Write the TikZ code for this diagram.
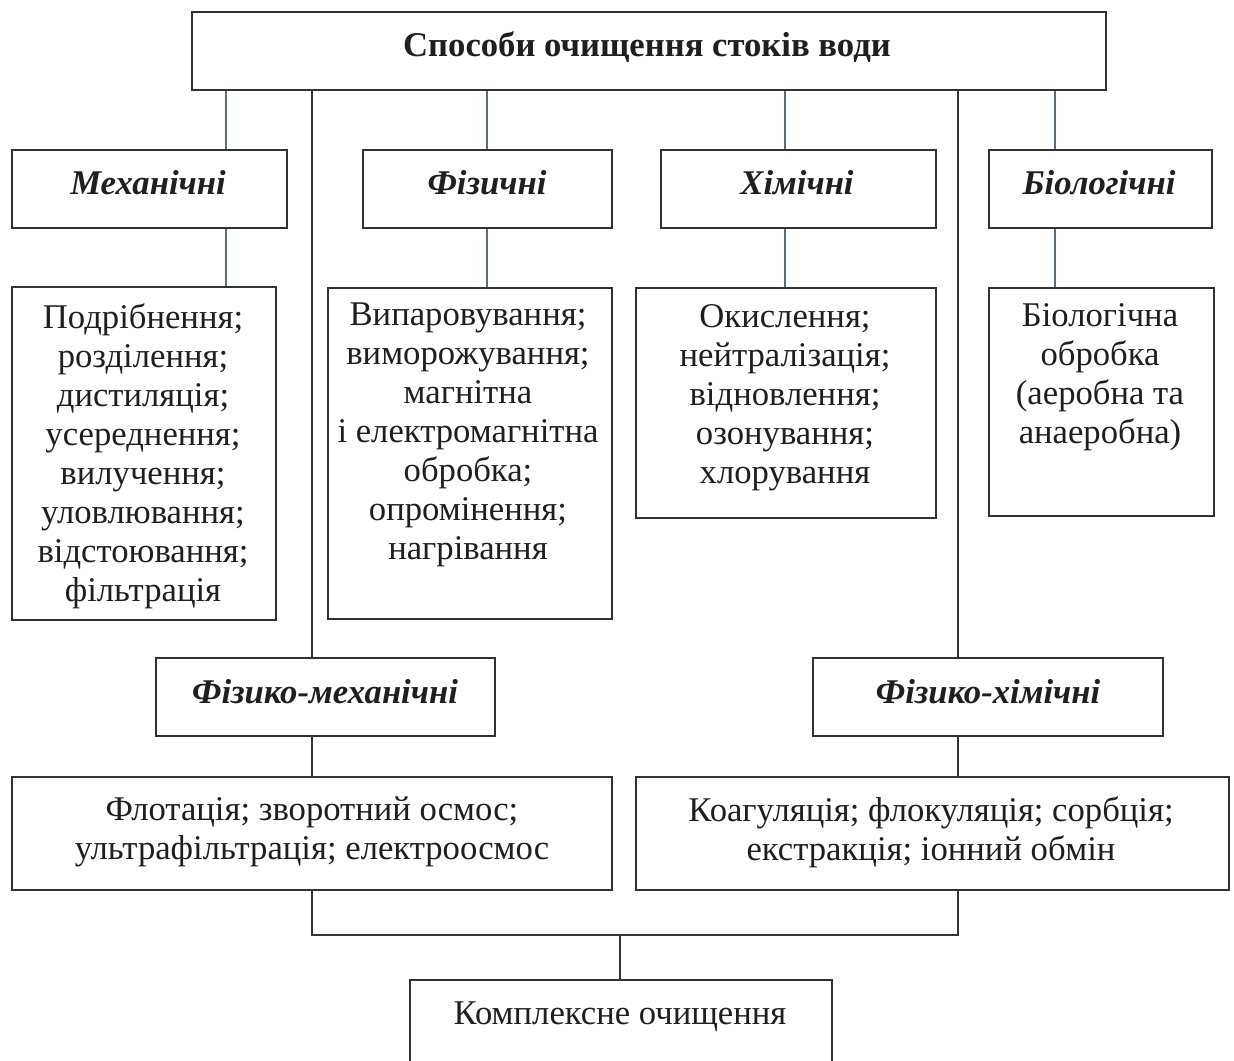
\documentclass[tikz,border=0pt]{standalone}
\usepackage{fontspec}
\setmainfont{Liberation Serif}
\definecolor{slate}{RGB}{92,108,122}
\definecolor{edge}{RGB}{50,50,50}
\newcommand\frameat[5]{%
  \node[frame, minimum width={(#4-#2)*0.75pt}, minimum height={(#5-#3)*0.75pt}] (#1) at (#2,#3) {};}
\begin{document}
\begin{tikzpicture}[x=0.75pt,y=-0.75pt,
  frame/.style={draw=edge, line width=1.4pt, fill=white, inner sep=0pt, anchor=north west},
  link/.style={draw=black!80, line width=1.4pt},
  slink/.style={draw=slate, line width=1.6pt},
  body/.style={font=\fontsize{26}{29.25}\selectfont, align=center, inner sep=0pt, text=black!88, anchor=north},
  line1/.style={font=\fontsize{26}{29.25}\selectfont, inner sep=0pt, text=black!88, anchor=base},
  head/.style={font=\fontsize{26}{30}\selectfont\bfseries\itshape, inner sep=0pt, anchor=base, text=black!88},
  title/.style={font=\fontsize{26}{30}\selectfont\bfseries, inner sep=0pt, anchor=base, text=black!88},
]
\clip (0,0) rectangle (1234,1060);
\fill[white] (0,0) rectangle (1234,1060);

% x positions of the vertical connectors
\coordinate (xa) at (226,0);
\coordinate (xb) at (312,0);
\coordinate (xc) at (487,0);
\coordinate (xd) at (785,0);
\coordinate (xe) at (958,0);
\coordinate (xf) at (1055,0);
\coordinate (join) at (620,935);

% boxes
\frameat{top}{191}{11}{1105}{89}
\frameat{mech}{11}{149}{286}{227}
\frameat{phys}{362}{149}{611}{227}
\frameat{chem}{660}{149}{935}{227}
\frameat{bio}{988}{149}{1211}{227}
\frameat{mechL}{11}{286}{275}{619}
\frameat{physL}{327}{287}{611}{618}
\frameat{chemL}{635}{287}{935}{517}
\frameat{bioL}{988}{287}{1213}{515}
\frameat{pm}{155}{657}{494}{735}
\frameat{pc}{812}{657}{1162}{735}
\frameat{pmL}{11}{776}{611}{889}
\frameat{pcL}{635}{776}{1228}{889}
\frameat{cx}{409}{979}{831}{1075}

% connectors
\draw[slink] (xa |- top.south) -- (xa |- mech.north);
\draw[slink] (xc |- top.south) -- (xc |- phys.north);
\draw[slink] (xd |- top.south) -- (xd |- chem.north);
\draw[slink] (xf |- top.south) -- (xf |- bio.north);
\draw[slink] (xa |- mech.south) -- (xa |- mechL.north);
\draw[slink] (xc |- phys.south) -- (xc |- physL.north);
\draw[slink] (xd |- chem.south) -- (xd |- chemL.north);
\draw[slink] (xf |- bio.south) -- (xf |- bioL.north);
\draw[link] (xb |- top.south) -- (xb |- pm.north);
\draw[link] (xe |- top.south) -- (xe |- pc.north);
\draw[link] (xb |- pm.south) -- (xb |- pmL.north);
\draw[link] (xe |- pc.south) -- (xe |- pcL.north);
\draw[link] (xb |- pmL.south) -- (xb |- join) -- (xe |- join) -- (xe |- pcL.south);
\draw[link] (join) -- (join |- cx.north);

% texts
\node[title] (tTop) at (647,56) {Способи очищення стоків води};
\node[head] (tMech) at (148,194) {Механічні};
\node[head] (tPhys) at (487,194) {Фізичні};
\node[head] (tChem) at (797,194) {Хімічні};
\node[head] (tBio) at (1099,194) {Біологічні};
\node[head] (tPm) at (325,703) {Фізико-механічні};
\node[head] (tPc) at (988,703) {Фізико-хімічні};

\node[body] (tMechL) at (143,303) {Подрібнення;\\розділення;\\дистиляція;\\усереднення;\\вилучення;\\уловлювання;\\відстоювання;\\фільтрація};
\node[body] (tPhysL) at (468,303) {Випаровування;\\виморожування;\\магнітна\\і електромагнітна\\обробка;\\опромінення;\\нагрівання};
\node[body] (tChemL) at (785,304) {Окислення;\\нейтралізація;\\відновлення;\\озонування;\\хлорування};
\node[body] (tBioL) at (1100,303) {Біологічна\\обробка\\(аеробна та\\анаеробна)};
\node[body] (tPmL) at (312,796) {Флотація; зворотний осмос;\\ультрафільтрація; електроосмос};
\node[body] (tPcL) at (931,796) {Коагуляція; флокуляція; сорбція;\\екстракція; іонний обмін};
\node[line1] (tCx) at (620,1024) {Комплексне очищення};
\end{tikzpicture}
\end{document}
